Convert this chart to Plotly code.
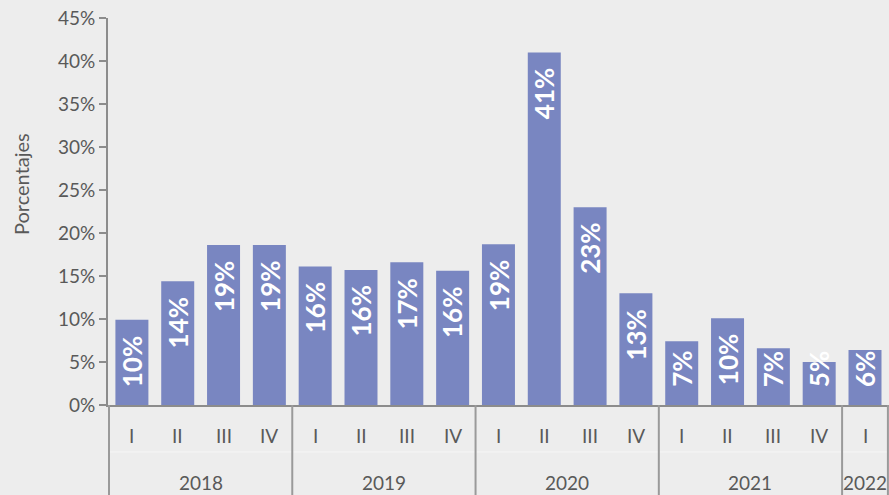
import plotly.graph_objects as go

years = ["2018"] * 4 + ["2019"] * 4 + ["2020"] * 4 + ["2021"] * 4 + ["2022"]
quarters = ["I", "II", "III", "IV"] * 4 + ["I"]
values = [9.9, 14.4, 18.6, 18.6, 16.1, 15.7, 16.6, 15.6, 18.7, 41.0, 23.0, 13.0, 7.4, 10.1, 6.6, 5.0, 6.4]
labels = [f"{round(v):.0f}%" for v in values]

BG = "#EDEDED"
BAR = "#7986C1"
TXT = "#595959"
AX = "#8C8C8C"
DIV = "#9A9A9A"
FONT = "Lato"

fig = go.Figure()
fig.add_trace(go.Bar(
    x=[years, quarters],
    y=values,
    marker=dict(color=BAR, line=dict(width=0)),
    hoverinfo="skip",
))

annotations = []
shapes = []
# value labels inside bars
for i, (v, lab) in enumerate(zip(values, labels)):
    if v < 7.5:
        annotations.append(dict(x=i, y=0, xref="x", yref="y", text=lab, textangle=-90,
                                showarrow=False, yanchor="bottom", xanchor="center", yshift=16,
                                font=dict(family=FONT, size=26, color="white", weight="bold")))
    else:
        annotations.append(dict(x=i, y=v, xref="x", yref="y", text=lab, textangle=-90,
                                showarrow=False, yanchor="top", xanchor="center", yshift=-14,
                                font=dict(family=FONT, size=26, color="white", weight="bold")))

# quarter labels (first category row)
for i, q in enumerate(quarters):
    annotations.append(dict(x=i, y=-0.079, xref="x", yref="paper", text=q, showarrow=False,
                            xanchor="center", yanchor="middle",
                            font=dict(family=FONT, size=19, color=TXT)))

# year labels (second category row) and group dividers
groups = []
for i, y in enumerate(years):
    if not groups or groups[-1][0] != y:
        groups.append([y, i, i])
    else:
        groups[-1][2] = i
for y, a, b in groups:
    annotations.append(dict(x=(a + b) / 2, y=-0.199, xref="x", yref="paper", text=y,
                            showarrow=False, xanchor="center", yanchor="middle",
                            font=dict(family=FONT, size=19, color=TXT)))
    shapes.append(dict(type="line", xref="x", yref="paper", x0=a - 0.5, x1=a - 0.5,
                       y0=0, y1=-0.24, line=dict(color=DIV, width=2)))
shapes.append(dict(type="line", xref="x", yref="paper", x0=groups[-1][2] + 0.5,
                   x1=groups[-1][2] + 0.5, y0=0, y1=-0.24, line=dict(color=DIV, width=2)))
# faint separator between the two label rows
shapes.append(dict(type="line", xref="paper", yref="paper", x0=0, x1=1, y0=-0.1215, y1=-0.1215,
                   line=dict(color="#F6F6F6", width=1), layer="below"))

annotations.append(dict(x=(21 - 108) / 781, y=(405 - 184) / 387, xref="paper", yref="paper",
                        text="Porcentajes", textangle=-90, showarrow=False,
                        xanchor="center", yanchor="middle",
                        font=dict(family=FONT, size=20, color=TXT)))

fig.update_layout(
    width=889, height=495,
    margin=dict(l=108, r=0, t=18, b=90),
    paper_bgcolor=BG, plot_bgcolor=BG,
    bargap=0.28,
    showlegend=False,
    annotations=annotations,
    shapes=shapes,
    font=dict(family=FONT, size=19, color=TXT),
)
fig.update_yaxes(
    range=[0, 45], dtick=5, ticksuffix="%", showgrid=False, zeroline=False,
    showline=True, linecolor=AX, linewidth=2, ticks="outside", ticklen=7,
    tickcolor=AX, tickwidth=2, tickfont=dict(family=FONT, size=19, color=TXT),
    automargin=False,
)
fig.update_xaxes(
    type="multicategory", showgrid=False, showline=True, linecolor=AX, linewidth=2,
    ticks="", showdividers=False, showticklabels=False, automargin=False,
)

fig.write_html("out.html", config={"displayModeBar": False},
               post_script="document.body.style.margin='0';document.body.style.overflow='hidden';")
